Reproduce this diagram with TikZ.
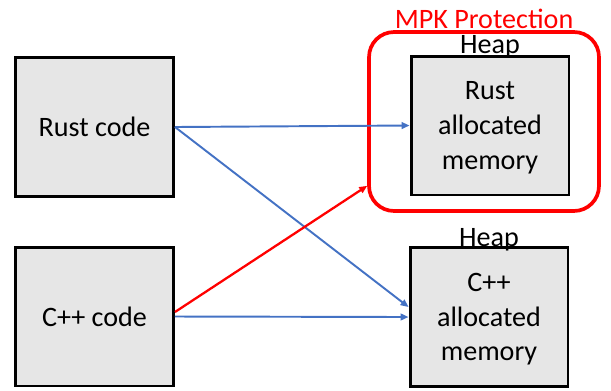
\documentclass[tikz,border=0pt]{standalone}
\usepackage{fontspec}
\setmainfont{Carlito}
\usetikzlibrary{arrows.meta}
\definecolor{arrowblue}{HTML}{4472C4}
\definecolor{boxgray}{HTML}{E6E6E6}
\tikzset{
  codebox/.style={draw=black,fill=boxgray,line width=1.7pt,minimum width=3.16cm,minimum height=2.78cm,align=center,inner sep=0pt},
  membox/.style={codebox,text depth=-0.5pt},
  link/.style={arrowblue,line width=1.1pt,-{Triangle[length=4.5pt,width=3.8pt]}},
  redlink/.style={red,line width=1.3pt,-{Triangle[length=4.5pt,width=3.8pt]}}
}
\begin{document}
\begin{tikzpicture}[x=0.02cm,y=-0.02cm,font=\fontsize{16}{19.8}\selectfont]
			\useasboundingbox (0,0) rectangle (611,390);
			\node[codebox] (rust) at (94.5,127) {Rust code};
			\node[codebox] (cpp) at (94.5,316.5) {C++ code};
			\node[membox] (rustmem) at (490,125.5) {Rust\\allocated\\memory};
			\node[membox] (cppmem) at (489,317) {C++\\allocated\\memory};
			\node[draw=red,line width=2.1pt,rounded corners=0.5cm,minimum width=4.6cm,minimum height=3.58cm] (mpk) at (484,121.5) {};
			\node[anchor=base,text=red] (mpklabel) at ([yshift=0.04cm]mpk.north) {MPK Protection};
			\node[anchor=base] (heaptop) at ([yshift=0.02cm]rustmem.north) {Heap};
			\node[anchor=base] (heapbot) at (cppmem.north) {Heap};
			\draw[link] (rust.east) -- (rustmem.west);
			\draw[link] (rust.east) -- ([yshift=0.2cm]cppmem.west);
			\draw[link] (cpp.east) -- (cppmem.west);
			\draw[redlink] ([yshift=0.09cm]cpp.east) -- ([yshift=0.54cm]mpk.south west);
			\end{tikzpicture}
\end{document}
